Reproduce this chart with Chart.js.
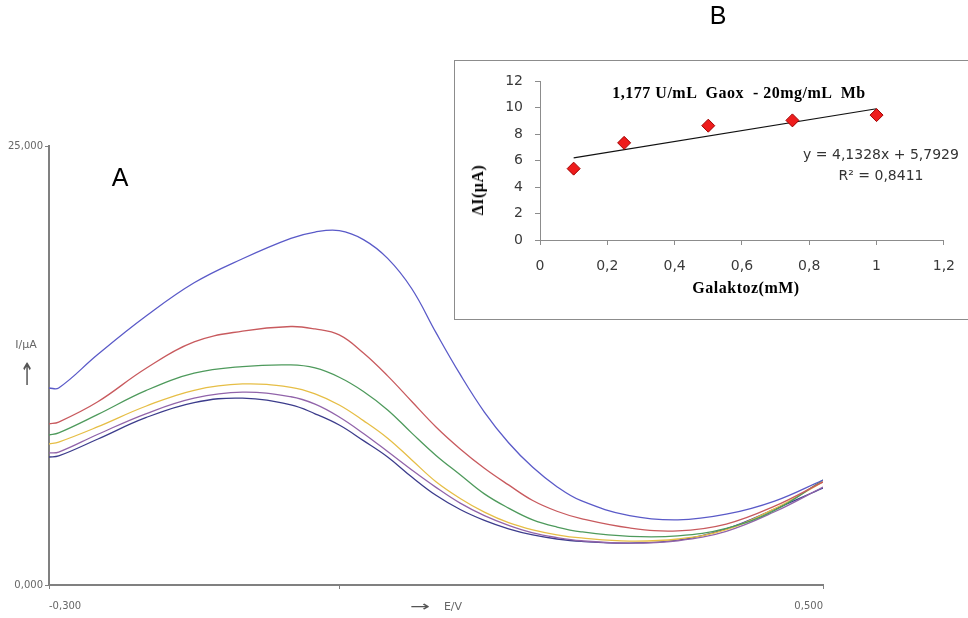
<!DOCTYPE html>
<html>
<head>
<meta charset="utf-8">
<script src="https://cdn.jsdelivr.net/npm/chart.js@4.4.1/dist/chart.umd.min.js"></script>
<style>
  body { margin: 0; background: #fff; }
  #page { position: relative; width: 968px; height: 618px; overflow: hidden; font-family: "DejaVu Sans", sans-serif; }
  #cvA { position: absolute; left: 0; top: 0; }
  #boxB { position: absolute; left: 454px; top: 60px; width: 530px; height: 258px; border: 1px solid #8c8c8c; background: #fff; z-index: 2; }
  #cvB { position: absolute; left: 0; top: 0; }
  .lbl { position: absolute; white-space: pre; line-height: 1; transform: translate(-50%, -50%); z-index: 3; }
  .serif { font-family: "Liberation Serif", serif; font-weight: bold; font-size: 16px; color: #000; letter-spacing: 0.5px; }
</style>
</head>
<body>
<div id="page">
  <canvas id="cvA" width="968" height="618"></canvas>
  <div id="boxB"><canvas id="cvB" width="513" height="258"></canvas></div>

  <div class="lbl" style="left:120px; top:177px; font:25px 'Liberation Sans', sans-serif;">A</div>
  <div class="lbl" style="left:718px; top:15px; font:25px 'Liberation Sans', sans-serif;">B</div>
  <div class="lbl" style="left:26px; top:344px; font-size:11px; color:#666;">I/µA</div>
  <div class="lbl" style="left:27px; top:375px; font-size:22px; color:#555; transform:translate(-50%,-50%) scale(0.8,1.4);">↑</div>
  <div class="lbl" style="left:420px; top:606px; font-size:14px; color:#555; transform:translate(-50%,-50%) scale(1.7,1);">→</div>
  <div class="lbl" style="left:453px; top:606px; font-size:11px; color:#666;">E/V</div>

  <div class="lbl serif" style="left:739px; top:93px;">1,177 U/mL  Gaox  - 20mg/mL  Mb</div>
  <div class="lbl serif" style="left:478px; top:190px; transform:translate(-50%,-50%) rotate(-90deg);">ΔI(µA)</div>
  <div class="lbl serif" style="left:746px; top:288px;">Galaktoz(mM)</div>
  <div class="lbl" style="left:881px; top:154px; font-size:14px; color:#333;">y = 4,1328x + 5,7929</div>
  <div class="lbl" style="left:881px; top:175px; font-size:14px; color:#333;">R² = 0,8411</div>
</div>

<script>
// --- A: voltammograms, current (µA) against potential (V)
const potential = [-0.3, -0.29, -0.25, -0.2, -0.15, -0.1, -0.05, -0.025, 0, 0.025, 0.05, 0.075,
                   0.1, 0.125, 0.15, 0.175, 0.2, 0.225, 0.25, 0.3, 0.35, 0.4, 0.45, 0.5];
const curveBlue   = [11.22, 11.22, 13.11, 15.30, 17.21, 18.58, 19.74, 20.10, 20.18, 19.67, 18.60, 16.87,
                     14.37, 11.99, 9.85, 8.10, 6.70, 5.60, 4.80, 3.95, 3.71, 4.03, 4.78, 5.98];
const curveRed    = [9.17, 9.28, 10.42, 12.33, 13.84, 14.46, 14.72, 14.58, 14.24, 13.21, 11.91, 10.45,
                     9.00, 7.75, 6.65, 5.70, 4.81, 4.20, 3.78, 3.25, 3.08, 3.47, 4.49, 5.87];
const curveGreen  = [8.54, 8.66, 9.70, 11.07, 12.06, 12.44, 12.53, 12.36, 11.83, 11.02, 9.97, 8.65,
                     7.38, 6.28, 5.19, 4.38, 3.71, 3.30, 3.03, 2.77, 2.80, 3.23, 4.25, 5.98];
const curveYellow = [8.03, 8.14, 9.00, 10.18, 11.09, 11.45, 11.26, 10.89, 10.25, 9.36, 8.36, 7.12,
                     5.88, 4.93, 4.15, 3.55, 3.14, 2.86, 2.68, 2.50, 2.62, 3.15, 4.35, 5.87];
const curvePurple = [7.52, 7.57, 8.57, 9.75, 10.64, 10.98, 10.72, 10.30, 9.57, 8.63, 7.60, 6.55,
                     5.56, 4.66, 3.95, 3.40, 2.97, 2.70, 2.52, 2.38, 2.52, 3.06, 4.17, 5.58];
const curveNavy   = [7.29, 7.35, 8.30, 9.53, 10.39, 10.64, 10.26, 9.75, 9.11, 8.22, 7.29, 6.15,
                     5.11, 4.30, 3.68, 3.20, 2.85, 2.62, 2.48, 2.39, 2.55, 3.20, 4.32, 5.52];
const potentialTicks = [-0.3, 0, 0.5];
const currentTicks = [0, 25];

// --- B: calibration, ΔI against galactose concentration
const galactose = [0.1, 0.25, 0.5, 0.75, 1];
const deltaI = [5.4, 7.35, 8.65, 9.05, 9.45];
const trendX = [0.1, 1];
const trendY = [6.21, 9.93];

const curves = [
    { data: curveBlue, color: "#5a5ac8" },
    { data: curveRed, color: "#c85a5e" },
    { data: curveGreen, color: "#4e9a5c" },
    { data: curveYellow, color: "#e6be46" },
    { data: curvePurple, color: "#9164aa" },
    { data: curveNavy, color: "#3c3c8c" }
];

const commaFixed = digits => v => v.toFixed(digits).replace(".", ",");
const commaShort = v => String(Math.round(v * 10) / 10).replace(".", ",");

new Chart(document.getElementById("cvA").getContext("2d"), {
    type: "line",
    data: {
        datasets: curves.map(c => ({
            data: potential.map((x, i) => ({ x, y: c.data[i] })),
            borderColor: c.color,
            borderWidth: 1.3,
            pointRadius: 0,
            tension: 0.4
        }))
    },
    options: {
        responsive: false,
        animation: false,
        layout: { padding: { left: 0, top: 146, right: 145, bottom: 0 } },
        plugins: {
            legend: { display: false },
            tooltip: { enabled: false }
        },
        scales: {
            x: {
                type: "linear",
                min: -0.3,
                max: 0.5,
                afterBuildTicks: s => { s.ticks = potentialTicks.map(v => ({ value: v })); },
                afterFit: s => { s.height = 33; },
                ticks: {
                    align: "inner",
                    maxRotation: 0,
                    padding: 11,
                    color: "#666",
                    font: { family: "DejaVu Sans", size: 10 },
                    callback: v => v === 0 ? "" : commaFixed(3)(v)
                },
                grid: { drawOnChartArea: false, tickLength: 4, color: "#808080" },
                border: { color: "#808080", width: 2 }
            },
            y: {
                min: 0,
                max: 25,
                afterBuildTicks: s => { s.ticks = currentTicks.map(v => ({ value: v })); },
                afterFit: s => { s.width = 49; },
                ticks: {
                    padding: 2,
                    color: "#666",
                    font: { family: "DejaVu Sans", size: 10 },
                    callback: commaFixed(3)
                },
                grid: { drawOnChartArea: false, tickLength: 4, color: "#808080" },
                border: { color: "#808080", width: 2 }
            }
        }
    }
});

new Chart(document.getElementById("cvB").getContext("2d"), {
    type: "scatter",
    data: {
        datasets: [
            {
                data: galactose.map((x, i) => ({ x, y: deltaI[i] })),
                pointStyle: "rectRot",
                pointRadius: 6.5,
                backgroundColor: "#ee1c1c",
                borderColor: "#a00000",
                borderWidth: 1
            },
            {
                data: trendX.map((x, i) => ({ x, y: trendY[i] })),
                showLine: true,
                pointRadius: 0,
                borderColor: "#111",
                borderWidth: 1.2
            }
        ]
    },
    options: {
        responsive: false,
        animation: false,
        layout: { padding: { left: 0, top: 19, right: 24, bottom: 0 } },
        plugins: {
            legend: { display: false },
            tooltip: { enabled: false }
        },
        scales: {
            x: {
                type: "linear",
                min: 0,
                max: 1.2,
                afterFit: s => { s.height = 79; },
                ticks: {
                    stepSize: 0.2,
                    autoSkip: false,
                    maxRotation: 0,
                    padding: 13,
                    color: "#3a3a3a",
                    font: { family: "DejaVu Sans", size: 14 },
                    callback: commaShort
                },
                grid: { drawOnChartArea: false, tickLength: 5, color: "#8c8c8c" },
                border: { color: "#8c8c8c", width: 1 }
            },
            y: {
                min: 0,
                max: 12,
                afterFit: s => { s.width = 85; },
                ticks: {
                    stepSize: 2,
                    padding: 12,
                    color: "#3a3a3a",
                    font: { family: "DejaVu Sans", size: 14 },
                    callback: commaShort
                },
                grid: { drawOnChartArea: false, tickLength: 5, color: "#8c8c8c" },
                border: { color: "#8c8c8c", width: 1 }
            }
        }
    }
});
</script>
</body>
</html>
